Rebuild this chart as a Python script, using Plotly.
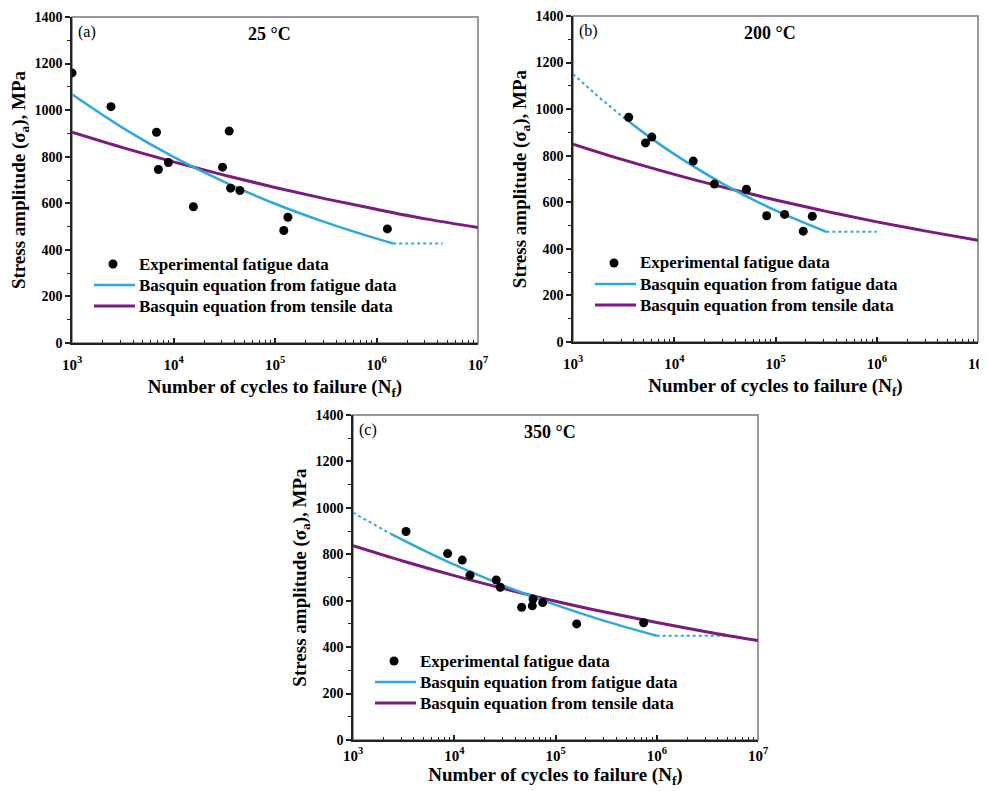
import plotly.graph_objects as go

# ---------------- data ----------------
a_exp_N = [1000, 2420, 6800, 7100, 8900, 15700, 30400, 35400, 36500, 45100, 122000, 134000, 1280000]
a_exp_S = [1160, 1015, 905, 745, 775, 585, 755, 910, 665, 655, 483, 540, 490]
a_fit_N = [1e3, 3.16e3, 1e4, 3.16e4, 1e5, 3.16e5, 1e6, 1.46e6]
a_fit_S = [1068, 924, 799, 692, 598, 518, 448, 427]
a_fit_ext_N = [1.46e6, 4.5e6]
a_fit_ext_S = [427, 427]
a_ten_N = [1e3, 3.16e3, 1e4, 3.16e4, 1e5, 3.16e5, 1e6, 3.16e6, 1e7]
a_ten_S = [905, 839, 778, 721, 668, 619, 574, 532, 496]

b_exp_N = [3550, 5200, 6000, 15400, 24900, 51600, 81800, 123000, 188000, 231000]
b_exp_S = [965, 855, 880, 777, 678, 656, 542, 548, 476, 540]
b_fit_pre_N = [1e3, 1.78e3, 3.12e3]
b_fit_pre_S = [1151, 1053, 966]
b_fit_N = [3.12e3, 5.62e3, 1e4, 3.16e4, 1e5, 3.18e5]
b_fit_S = [966, 882, 807, 675, 565, 473]
b_fit_ext_N = [3.18e5, 1e6]
b_fit_ext_S = [473, 473]
b_ten_N = [1e3, 3.16e3, 1e4, 3.16e4, 1e5, 3.16e5, 1e6, 3.16e6, 1e7]
b_ten_S = [850, 782, 720, 663, 610, 561, 516, 475, 437]

c_exp_N = [3340, 8600, 12000, 14300, 26000, 28500, 46300, 59000, 60000, 74700, 162000, 742000]
c_exp_S = [898, 803, 775, 710, 689, 658, 572, 578, 607, 592, 500, 505]
c_fit_pre_N = [1e3, 1.78e3, 2.39e3]
c_fit_pre_S = [979, 917, 887]
c_fit_N = [2.39e3, 5.62e3, 1e4, 3.16e4, 1e5, 3.16e5, 1e6]
c_fit_S = [887, 806, 755, 663, 582, 511, 449]
c_fit_ext_N = [1e6, 4.9e6]
c_fit_ext_S = [449, 449]
c_ten_N = [1e3, 3.16e3, 1e4, 3.16e4, 1e5, 3.16e5, 1e6, 3.16e6, 1e7]
c_ten_S = [837, 770, 708, 651, 598, 550, 506, 465, 428]

x_tickvals = [1e3, 1e4, 1e5, 1e6, 1e7]
x_ticktext = ["<b>10<sup>3</sup></b>", "<b>10<sup>4</sup></b>", "<b>10<sup>5</sup></b>",
              "<b>10<sup>6</sup></b>", "<b>10<sup>7</sup></b>"]
y_tickvals = [0, 200, 400, 600, 800, 1000, 1200, 1400]
y_ticktext = ["<b>0</b>", "<b>200</b>", "<b>400</b>", "<b>600</b>", "<b>800</b>", "<b>1000</b>",
              "<b>1200</b>", "<b>1400</b>"]
panel_labels = ["(a)", "(b)", "(c)"]
panel_titles = ["25 °C", "200 °C", "350 °C"]
legend_names = ["Experimental fatigue data", "Basquin equation from fatigue data",
                "Basquin equation from tensile data"]
x_title = "Number of cycles to failure (N<sub>f</sub>)"
y_title = "Stress amplitude (σ<sub>a</sub>), MPa"

# ---------------- style / geometry ----------------
PAGE_W, PAGE_H = 987, 791
OFF = 8                      # default page margin of the html body
W, H = PAGE_W - OFF, PAGE_H - OFF
CYAN = "#2EA9DF"
PURPLE = "#7A1C7E"
FONT = "Liberation Serif, Times New Roman, serif"


def px_x(v):
    return (v - OFF) / W


def px_y(v):
    return 1 - (v - OFF) / H


panels = [
    dict(exp=(a_exp_N, a_exp_S), pre=None, fit=(a_fit_N, a_fit_S), ext=(a_fit_ext_N, a_fit_ext_S),
         ten=(a_ten_N, a_ten_S), px=(72, 478), py=(17, 343), tls=7, tst=8),
    dict(exp=(b_exp_N, b_exp_S), pre=(b_fit_pre_N, b_fit_pre_S), fit=(b_fit_N, b_fit_S),
         ext=(b_fit_ext_N, b_fit_ext_S), ten=(b_ten_N, b_ten_S), px=(573, 978), py=(16, 342),
         tls=7, tst=8),
    dict(exp=(c_exp_N, c_exp_S), pre=(c_fit_pre_N, c_fit_pre_S), fit=(c_fit_N, c_fit_S),
         ext=(c_fit_ext_N, c_fit_ext_S), ten=(c_ten_N, c_ten_S), px=(353, 758), py=(415, 740),
         tls=1, tst=0),
]

fig = go.Figure()
minor_x = [m * 10 ** e for e in range(3, 7) for m in range(2, 10)]
shapes = []
annotations = []

for i, p in enumerate(panels):
    sfx = "" if i == 0 else str(i + 1)
    xa, ya = "x" + sfx, "y" + sfx
    for seg in (p["pre"], p["ext"]):
        if seg is not None:
            fig.add_trace(go.Scatter(x=seg[0], y=seg[1], mode="lines", xaxis=xa, yaxis=ya,
                                     line=dict(color=CYAN, width=2, dash="dot"),
                                     showlegend=False, hoverinfo="skip"))
    fig.add_trace(go.Scatter(x=p["ten"][0], y=p["ten"][1], mode="lines", xaxis=xa, yaxis=ya,
                             line=dict(color=PURPLE, width=3, shape="spline"),
                             name=legend_names[2], showlegend=False))
    fig.add_trace(go.Scatter(x=p["fit"][0], y=p["fit"][1], mode="lines", xaxis=xa, yaxis=ya,
                             line=dict(color=CYAN, width=2.5, shape="spline"),
                             name=legend_names[1], showlegend=False))
    fig.add_trace(go.Scatter(x=p["exp"][0], y=p["exp"][1], mode="markers", xaxis=xa, yaxis=ya,
                             marker=dict(color="black", size=9),
                             name=legend_names[0], showlegend=False))

    x0, x1 = p["px"]
    ytop, ybot = p["py"]
    fig.update_layout(**{
        "xaxis" + sfx: dict(
            domain=[px_x(x0), px_x(x1)], anchor=ya, type="log", range=[3, 7], automargin=False,
            tickvals=x_tickvals, ticktext=x_ticktext, ticks="inside", ticklen=5,
            tickwidth=1.5, tickcolor="#222", showline=True, linecolor="#222", linewidth=1.5,
            showgrid=False, zeroline=False, ticklabelstandoff=p["tls"], ticklabeloverflow="allow",
            minor=dict(tickvals=minor_x, ticks="inside", ticklen=3, tickcolor="#222", tickwidth=1.2),
            tickfont=dict(family=FONT, size=15, color="black"),
            title=dict(text="<b>" + x_title + "</b>",
                       font=dict(family=FONT, size=19, color="black"), standoff=p["tst"]),
        ),
        "yaxis" + sfx: dict(
            domain=[px_y(ybot), px_y(ytop)], anchor=xa, range=[0, 1400], automargin=False,
            tickvals=y_tickvals, ticktext=y_ticktext, ticks="outside", ticklen=5,
            tickwidth=1.5, tickcolor="#222", showline=True, linecolor="#222", linewidth=1.5,
            showgrid=False, zeroline=False, ticklabeloverflow="allow",
            minor=dict(dtick=100, ticks="outside", ticklen=3, tickcolor="#222", tickwidth=1.2),
            tickfont=dict(family=FONT, size=14, color="black"),
            title=dict(text="<b>" + y_title + "</b>",
                       font=dict(family=FONT, size=19, color="black"), standoff=4),
        ),
    })
    shapes.append(dict(type="rect", xref=xa + " domain", yref=ya + " domain", x0=0, x1=1, y0=0, y1=1,
                       line=dict(color="#7a7a7a", width=1.5), layer="below"))
    annotations.append(dict(xref="paper", yref="paper", x=px_x(x0 + 4), y=px_y(ytop + 4),
                            xanchor="left", yanchor="top", showarrow=False, text=panel_labels[i],
                            font=dict(family=FONT, size=16, color="black")))
    annotations.append(dict(xref="paper", yref="paper", x=px_x(x0 + 197), y=px_y(ytop + 17),
                            xanchor="center", yanchor="middle", showarrow=False,
                            text="<b>" + panel_titles[i] + "</b>",
                            font=dict(family=FONT, size=18, color="black")))
    rows = [ybot - 79, ybot - 58, ybot - 37]
    mx, my = x0 + 41, rows[0]
    shapes.append(dict(type="circle", xref="paper", yref="paper", x0=px_x(mx - 4.5), x1=px_x(mx + 4.5),
                       y0=px_y(my + 4.5), y1=px_y(my - 4.5), fillcolor="black",
                       line=dict(color="black", width=0)))
    for r, col, wd in ((rows[1], CYAN, 2.5), (rows[2], PURPLE, 3)):
        shapes.append(dict(type="line", xref="paper", yref="paper", x0=px_x(x0 + 22), x1=px_x(x0 + 63),
                           y0=px_y(r), y1=px_y(r), line=dict(color=col, width=wd)))
    for r, name in zip(rows, legend_names):
        annotations.append(dict(xref="paper", yref="paper", x=px_x(x0 + 65), y=px_y(r),
                                xanchor="left", yanchor="middle", showarrow=False,
                                text="<b>" + name + "</b>",
                                font=dict(family=FONT, size=17, color="black")))

fig.update_layout(width=W, height=H, margin=dict(l=0, r=0, t=0, b=0), showlegend=False,
                  shapes=shapes, annotations=annotations,
                  paper_bgcolor="white", plot_bgcolor="white", font=dict(family=FONT))
fig.write_html("out.html")
